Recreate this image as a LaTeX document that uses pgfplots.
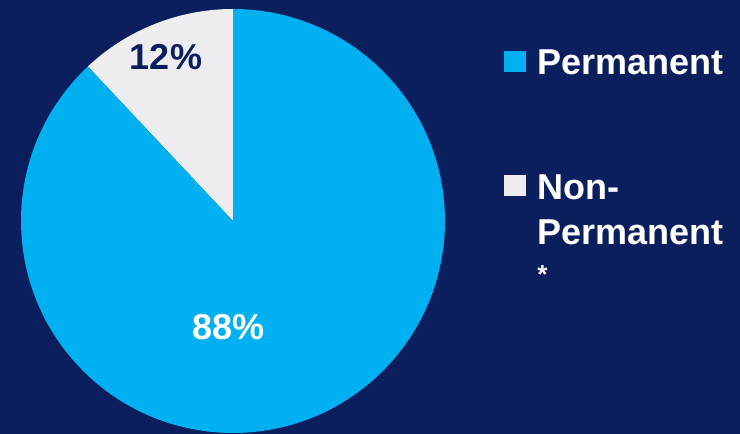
\documentclass[border=0pt]{standalone}
\usepackage{fontspec}
\setmainfont{Liberation Sans}
\usepackage{pgfplots}
\usepackage{pgfplotstable}
\pgfplotsset{compat=1.18}
\definecolor{navy}{HTML}{0B1F5F}
\definecolor{pieblue}{HTML}{00B0F0}
\definecolor{piegray}{HTML}{EDEDF0}
% share of employees (percent)
\pgfplotstableread{
label value
Permanent 88
NonPermanent 12
}\piedata
\newcommand{\labfont}{\bfseries\fontsize{18}{21.6}\selectfont}
\begin{document}
\begin{tikzpicture}
\pgfplotstablegetelem{0}{value}\of\piedata \let\vperm\pgfplotsretval
\pgfplotstablegetelem{1}{value}\of\piedata \let\vnon\pgfplotsretval
\pgfmathsetmacro\anon{90+3.6*\vnon}
\begin{axis}[
    x=0.5pt, y=0.5pt,
    xmin=0, xmax=740, ymin=0, ymax=434,
    hide axis,
    ]
    \fill[navy] (axis cs:0,0) rectangle (axis cs:740,434);
    % pie: center (233,213), radius 212 px
    \fill[piegray] (axis cs:233,213) -- ++(90:106pt)
        arc[start angle=90, end angle=\anon, radius=106pt] -- cycle;
    \fill[pieblue] (axis cs:233,213) -- ++(\anon:106pt)
        arc[start angle=\anon, end angle=450, radius=106pt] -- cycle;
    \node[anchor=base, inner sep=0pt, text=navy, font=\labfont] at (axis cs:166,364) {\vnon\%};
    \node[anchor=base, inner sep=0pt, text=white, font=\labfont] at (axis cs:228.5,94) {\vperm\%};
    % legend
    \fill[pieblue] (axis cs:504,362) rectangle (axis cs:526,383);
    \fill[piegray] (axis cs:504,238) rectangle (axis cs:526,259);
    \node[anchor=base west, inner sep=0pt, text=white, font=\labfont] at (axis cs:537,359) {Permanent};
    \node[anchor=base west, inner sep=0pt, text=white, font=\labfont] at (axis cs:537,234) {Non-};
    \node[anchor=base west, inner sep=0pt, text=white, font=\labfont] at (axis cs:537,189) {Permanent};
    \node[anchor=base west, inner sep=0pt, text=white, font=\bfseries\fontsize{13}{15}\selectfont] at (axis cs:537,150) {*};
\end{axis}
\end{tikzpicture}
\end{document}
